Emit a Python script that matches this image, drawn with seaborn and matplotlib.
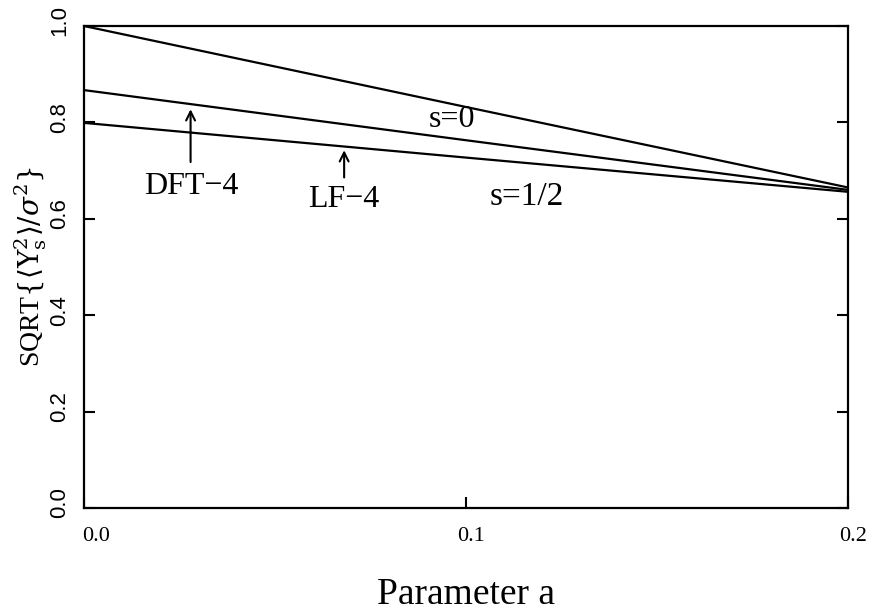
import numpy as np
import pandas as pd
import matplotlib
matplotlib.use("Agg")
import matplotlib.pyplot as plt
import matplotlib.transforms as mtransforms
import seaborn as sns

# Data
a_values = [0.0, 0.1, 0.2]
s0_values = [1.000, 0.832, 0.665]
dft4_values = [0.867, 0.763, 0.660]
lf4_values = [0.799, 0.727, 0.656]
series_names = ["s=0", "DFT-4", "LF-4"]
x_ticks = [0.0, 0.1, 0.2]
x_ticklabels = ["0.0", "0.1", "0.2"]
y_ticks = [0.0, 0.2, 0.4, 0.6, 0.8, 1.0]
y_ticklabels = ["0.0", "0.2", "0.4", "0.6", "0.8", "1.0"]

df = pd.DataFrame({
    "a": a_values * 3,
    "val": s0_values + dft4_values + lf4_values,
    "series": [series_names[0]] * 3 + [series_names[1]] * 3 + [series_names[2]] * 3,
})

sns.set_theme(style="white")
plt.rcParams["font.family"] = ["Liberation Serif", "DejaVu Serif"]
plt.rcParams["mathtext.fontset"] = "dejavuserif"
plt.rcParams["text.color"] = "black"
plt.rcParams["axes.labelcolor"] = "black"
plt.rcParams["xtick.color"] = "black"
plt.rcParams["ytick.color"] = "black"

fig = plt.figure(figsize=(8.71, 6.14), dpi=100)
ax = fig.add_axes([84 / 871, 1 - 508 / 614, 764 / 871, 482 / 614])

sns.lineplot(data=df, x="a", y="val", hue="series", palette=["black"] * 3,
             legend=False, ax=ax, linewidth=1.6)

ax.set_xlim(0.0, 0.2)
ax.set_ylim(0.0, 1.0)
ax.set_xticks(x_ticks)
ax.set_xticklabels(x_ticklabels, fontsize=16, color="black")
ax.set_yticks(y_ticks)
ax.set_yticklabels(y_ticklabels, fontsize=16, rotation=90, va="center", color="black",
                   family=["Liberation Sans", "DejaVu Sans"])
ax.tick_params(axis="both", direction="in", length=8, width=1.5, color="black",
               labelcolor="black", right=True, left=True, bottom=True, top=False)
ax.tick_params(axis="y", pad=10)
ax.tick_params(axis="x", pad=14)
for sp in ax.spines.values():
    sp.set_color("black")
    sp.set_linewidth(1.6)

# small offsets of the tick labels as in the original
shifts = [12, 5, 5]
for lab, dx in zip(ax.get_xticklabels(), shifts):
    lab.set_transform(lab.get_transform() +
                      mtransforms.ScaledTranslation(dx / 100, 0, fig.dpi_scale_trans))
for lab in ax.get_yticklabels():
    lab.set_transform(lab.get_transform() +
                      mtransforms.ScaledTranslation(0, 5 / 100, fig.dpi_scale_trans))

ax.set_xlabel("Parameter a", fontsize=27, labelpad=22, color="black")
ax.set_ylabel(r"SQRT$\{\langle \mathrm{Y}_{\mathrm{s}}^2\rangle/\sigma^2\}$", fontsize=20,
              labelpad=0, color="black")

ax.text(0.0963, 0.805, "s=0", fontsize=23, ha="center", va="center", color="black")
ax.text(0.1159, 0.645, "s=1/2", fontsize=24, ha="center", va="center", color="black")
ax.annotate("", xy=(0.0279, 0.833), xytext=(0.0279, 0.712),
            arrowprops=dict(arrowstyle="->", lw=1.5, color="black", mutation_scale=16))
ax.text(0.0281, 0.668, "DFT\u22124", fontsize=23, ha="center", va="center", color="black")
ax.annotate("", xy=(0.0681, 0.748), xytext=(0.0681, 0.680),
            arrowprops=dict(arrowstyle="->", lw=1.5, color="black", mutation_scale=16))
ax.text(0.0681, 0.641, "LF\u22124", fontsize=23, ha="center", va="center", color="black")

fig.savefig("out.png", dpi=100)
